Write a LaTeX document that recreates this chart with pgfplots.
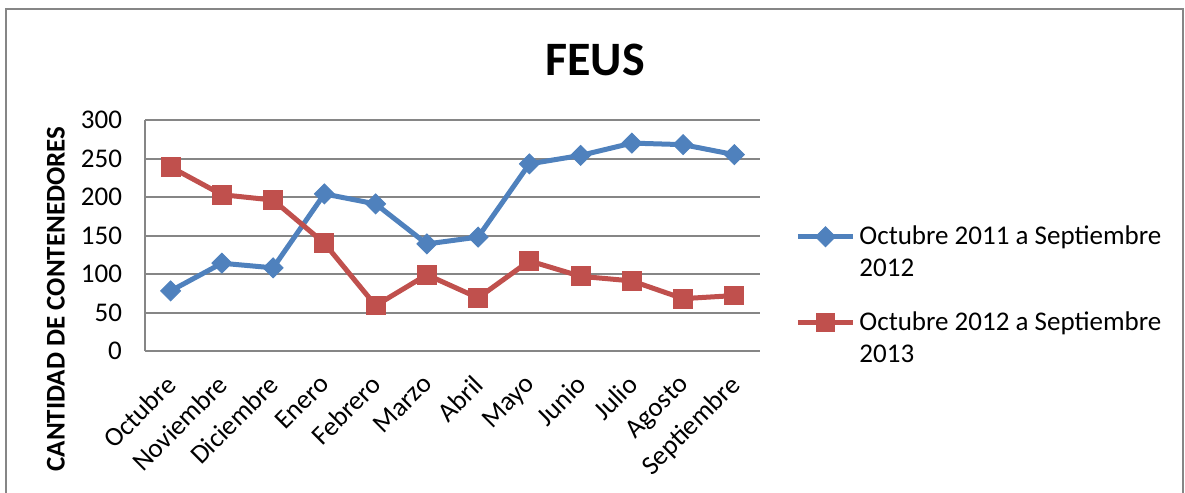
\documentclass[border=0pt]{standalone}
\usepackage{pgfplots}
\pgfplotsset{compat=1.18}
\usepackage{fontspec}
\setmainfont{Carlito}
\definecolor{sblue}{HTML}{4F81BD}
\definecolor{sred}{HTML}{C0504D}
\definecolor{gridg}{HTML}{868686}
\newcommand{\fs}{\fontsize{13.5}{16}\selectfont}
\begin{document}
\begin{tikzpicture}
\useasboundingbox (0pt,0pt) rectangle (592.5pt,246.5pt);
\draw[gridg,line width=1.2pt] (3pt,-5pt) -- (3pt,242pt) -- (591.5pt,242pt) -- (591.5pt,-5pt);
\node[font=\fontsize{24}{28}\selectfont\bfseries] at (297.5pt,216.5pt) {FEUS};
\begin{axis}[
  at={(72.5pt,71pt)}, anchor=south west,
  scale only axis, width=307.5pt, height=115.5pt,
  xmin=-0.5, xmax=11.5, ymin=0, ymax=300,
  ytick={0,50,...,300},
  xtick={0,...,11},
  xticklabels={Octubre,Noviembre,Diciembre,Enero,Febrero,Marzo,Abril,Mayo,Junio,Julio,Agosto,Septiembre},
  axis x line*=bottom, axis y line*=left,
  axis line style={gridg,line width=1pt,-},
  major tick length=0pt,
  ymajorgrids, grid style={gridg,line width=1pt},
  tick label style={font=\fs},
  /pgf/number format/assume math mode=true,
  yticklabel style={xshift=-8pt},
  xticklabel style={xshift=-3pt, yshift=-9.5pt, rotate=45, anchor=north east, inner sep=1pt},
  ylabel={CANTIDAD DE CONTENEDORES},
  ylabel style={at={(rel axis cs:-0.145,0.225)}, anchor=center, font=\fs\bfseries},
  legend style={draw=none, fill=none, at={(1.057,0.56)}, anchor=north west, inner sep=0pt,
    font=\fs, cells={anchor=base west}, row sep=28pt},
  every axis plot/.append style={line width=2.5pt},
  legend image code/.code={
    \draw[#1,mark repeat=2,mark phase=2] plot coordinates {(0pt,4pt) (13.75pt,4pt) (27.5pt,4pt)};},
]
\addplot[sblue, mark=square*, mark size=3.5pt, mark options={solid,rotate=45,fill=sblue,draw=sblue,line width=0.5pt}] coordinates {
(0,78) (1,114) (2,108) (3,204) (4,191) (5,139) (6,148) (7,243) (8,254) (9,270) (10,268) (11,255)};
\addlegendentry{\vtop{\hbox{Octubre 2011 a Septiembre}\hbox{2012}}}
\addplot[sred, mark=square*, mark size=4.7pt, mark options={solid,fill=sred,draw=sred,line width=0.5pt}] coordinates {
(0,239) (1,203) (2,196) (3,140) (4,59) (5,99) (6,69) (7,117) (8,97) (9,91) (10,68) (11,72)};
\addlegendentry{\vtop{\hbox{Octubre 2012 a Septiembre}\hbox{2013}}}
\end{axis}
\end{tikzpicture}
\end{document}
